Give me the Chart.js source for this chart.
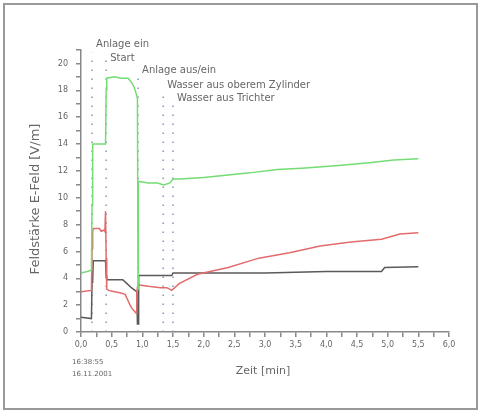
<!DOCTYPE html>
<html>
<head>
<meta charset="utf-8">
<script src="https://cdn.jsdelivr.net/npm/chart.js@4"></script>
<style>
  body { margin: 0; background: #fff; }
  #wrap { width: 481px; height: 412px; }
</style>
</head>
<body>
<div id="wrap"><canvas id="myChart"></canvas></div>
<script>
// Zeit [min] / Feldstärke [V/m]
const greenT = [0, 0.1, 0.17, 0.18, 0.19, 0.40, 0.41, 0.42, 0.55, 0.65, 0.77, 0.82, 0.86, 0.89, 0.92, 0.93, 0.935, 0.95, 1.1, 1.25, 1.35, 1.45, 1.5, 1.6, 2.0, 2.4, 2.75, 3.2, 3.6, 4.2, 4.7, 5.1, 5.5];
const greenV = [4.4, 4.5, 4.6, 9.5, 14.0, 14.0, 18.0, 18.9, 19.0, 18.9, 18.9, 18.6, 18.3, 17.9, 17.4, 3.2, 11.1, 11.2, 11.1, 11.1, 10.95, 11.1, 11.4, 11.4, 11.5, 11.7, 11.85, 12.1, 12.2, 12.4, 12.6, 12.8, 12.9];

const redT = [0, 0.17, 0.18, 0.19, 0.2, 0.3, 0.33, 0.38, 0.39, 0.40, 0.41, 0.42, 0.45, 0.55, 0.65, 0.72, 0.76, 0.80, 0.84, 0.88, 0.90, 0.91, 0.93, 0.95, 1.1, 1.3, 1.4, 1.48, 1.6, 1.9, 2.4, 2.9, 3.4, 3.9, 4.4, 4.9, 5.2, 5.5];
const redV = [3.0, 3.1, 6.2, 7.5, 7.7, 7.7, 7.5, 7.6, 7.5, 9.0, 5.5, 3.2, 3.1, 3.0, 2.9, 2.8, 2.4, 2.0, 1.7, 1.5, 1.4, 3.0, 3.6, 3.5, 3.4, 3.3, 3.3, 3.1, 3.6, 4.3, 4.8, 5.5, 5.9, 6.4, 6.7, 6.9, 7.3, 7.4];

const greyT = [0, 0.17, 0.18, 0.19, 0.20, 0.40, 0.41, 0.42, 0.6, 0.68, 0.75, 0.82, 0.88, 0.91, 0.92, 0.93, 0.94, 1.2, 1.48, 1.5, 2.0, 3.0, 4.0, 4.9, 4.95, 5.5];
const greyV = [1.1, 1.0, 3.7, 3.8, 5.3, 5.3, 4.2, 3.9, 3.9, 3.9, 3.6, 3.3, 3.1, 3.0, 0.6, 0.6, 4.2, 4.2, 4.2, 4.4, 4.4, 4.4, 4.5, 4.5, 4.8, 4.85];

// Ereignisse
const markerT = [0.18, 0.41, 0.93, 1.34, 1.5];
const markerTop = [20.8, 20.3, 18.9, 17.9, 17.2];
const markerLabelY = [21.4, 20.4, 19.5, 18.4, 17.4];
const markerLabels = ['Anlage ein', 'Start', 'Anlage aus/ein', 'Wasser aus oberem Zylinder', 'Wasser aus Trichter'];

const yTitle = 'Feldstärke E-Feld [V/m]';
const xTitle = 'Zeit [min]';
const stampLines = ['16:38:55', '16.11.2001'];

const toXY = (ts, vs) => ts.map((t, i) => ({x: t, y: vs[i]}));
const grey = '#888';
const textGrey = '#666';

const datasets = [
    {data: toXY(greenT, greenV), borderColor: '#74dc74'},
    {data: toXY(redT, redV), borderColor: '#e36b6b'},
    {data: toXY(greyT, greyV), borderColor: '#5a5a5a'},
].map(d => Object.assign(d, {borderWidth: 1.5, pointRadius: 0, tension: 0, fill: false}));

markerT.forEach((t, i) => {
    datasets.push({
        data: [{x: t, y: 0}, {x: t, y: markerTop[i]}],
        borderColor: '#8796b8',
        borderWidth: 1.5,
        borderDash: [1.5, 7.5],
        pointRadius: 0,
        clip: false,
    });
});

// Beschriftungen und Rahmen
const extras = {
    id: 'extras',
    afterDraw(chart) {
        const c = chart.ctx;
        const xs = chart.scales.x, ys = chart.scales.y;
        c.save();
        c.strokeStyle = '#999';
        c.lineWidth = 2;
        c.strokeRect(4, 4, 473, 405);

        c.fillStyle = textGrey;
        c.font = '10px "DejaVu Sans"';
        c.textAlign = 'left';
        c.textBaseline = 'middle';
        markerLabels.forEach((lbl, i) => {
            c.fillText(lbl, xs.getPixelForValue(markerT[i]) + 4, ys.getPixelForValue(markerLabelY[i]));
        });

        c.font = '11px "DejaVu Sans"';
        c.textAlign = 'center';
        c.fillText(xTitle, 263, 371);

        c.font = '7px "DejaVu Sans"';
        c.textAlign = 'left';
        c.fillText(stampLines[0], 72, 362);
        c.fillText(stampLines[1], 72, 374);

        c.translate(36, 199);
        c.rotate(-Math.PI / 2);
        c.font = '13px "DejaVu Sans"';
        c.textAlign = 'center';
        c.fillText(yTitle, 0, 0);
        c.restore();
    }
};

const ctx = document.getElementById('myChart');
new Chart(ctx, {
    type: 'line',
    data: {datasets: datasets},
    options: {
        responsive: true,
        maintainAspectRatio: false,
        animation: false,
        layout: {padding: {top: 50, right: 32, left: 0, bottom: 0}},
        plugins: {legend: {display: false}, tooltip: {enabled: false}},
        scales: {
            x: {
                type: 'linear',
                min: 0,
                max: 6,
                afterFit: s => { s.height = 80; },
                grid: {drawOnChartArea: false, color: grey, tickLength: 5, lineWidth: 1.5},
                border: {color: grey, width: 1.5},
                ticks: {
                    stepSize: 0.25,
                    autoSkip: false,
                    maxRotation: 0,
                    padding: 3,
                    color: textGrey,
                    font: {family: 'DejaVu Sans', size: 8},
                    callback: v => (v * 2) % 1 === 0 ? v.toFixed(1).replace('.', ',') : ''
                }
            },
            y: {
                min: 0,
                max: 21,
                afterFit: s => { s.width = 81; },
                grid: {drawOnChartArea: false, color: grey, tickLength: 5, lineWidth: 1.5},
                border: {color: grey, width: 1.5},
                ticks: {
                    stepSize: 1,
                    autoSkip: false,
                    padding: 8,
                    color: textGrey,
                    font: {family: 'DejaVu Sans', size: 8},
                    callback: v => (v % 2 === 0 && v <= 20) ? String(v) : ''
                }
            }
        }
    },
    plugins: [extras]
});
</script>
</body>
</html>
